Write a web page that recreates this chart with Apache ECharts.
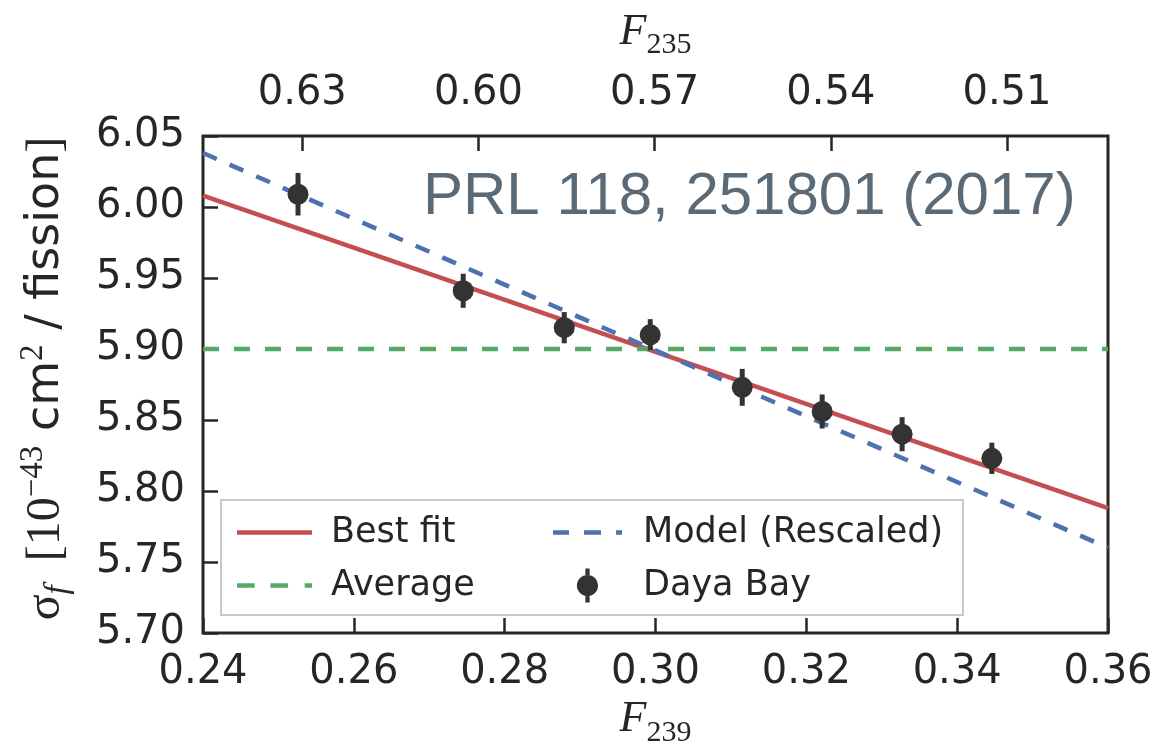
<!DOCTYPE html>
<html>
<head>
<meta charset="utf-8">
<script src="https://cdn.jsdelivr.net/npm/echarts@6/dist/echarts.min.js"></script>
<style>html,body{margin:0;padding:0;background:#fff}#c{width:1157px;height:756px}</style>
</head>
<body>
<div id="c"></div>
<script>
// ---- data ----
const f239 = [0.2526, 0.2745, 0.2879, 0.2993, 0.3115, 0.3221, 0.3327, 0.3446];
const sigma = [6.009, 5.941, 5.915, 5.910, 5.873, 5.856, 5.840, 5.823];
const sigmaErr = [0.015, 0.012, 0.011, 0.011, 0.013, 0.012, 0.012, 0.011];
const lineX = [0.24, 0.36];
const bestFitY = [6.008, 5.788];
const modelY = [6.038, 5.760];
const averageY = [5.90, 5.90];
const f235Ticks = [0.63, 0.60, 0.57, 0.54, 0.51];
const f235Span = [0.4928, 0.6469]; // top axis value at the right and left plot edges
const seriesNames = ['Best fit', 'Average', 'Model (Rescaled)', 'Daya Bay'];

const ink = '#262626';
const sans = 'DejaVu Sans';
const serif = 'Liberation Serif';
const red = '#c44e52', green = '#55a868', blue = '#4c72b0', dark = '#333333';

const chart = echarts.init(document.getElementById('c'), null, {renderer: 'canvas'});

const pair = (xs, ys) => xs.map((x, i) => [x, ys[i]]);
const icons = {
  solid: 'path://M0,0H75V4.5H0Z',
  greenDash: 'path://M0,0H17V4.5H0Z M32,0H49V4.5H32Z M65,0H72V4.5H65Z',
  blueDash: 'path://M0,0H16V4.5H0Z M31,0H48V4.5H31Z M63,0H69V4.5H63Z',
  daya: 'path://M4,0 H6 V3 H4 Z M4,13 H6 V16 H4 Z M10,8 A5,5 0 1,1 0,8 A5,5 0 1,1 10,8 Z'
};

const option = {
  animation: false,
  backgroundColor: '#ffffff',
  grid: {left: 203, right: 49, top: 136, bottom: 123, show: true, borderColor: ink, borderWidth: 3, backgroundColor: 'transparent'},
  xAxis: [
    {
      type: 'value', position: 'bottom', min: 0.24, max: 0.36, interval: 0.02,
      axisLine: {show: false},
      axisTick: {show: true, inside: true, length: 15, lineStyle: {color: ink, width: 2.5}},
      axisLabel: {margin: 20, fontSize: 40, fontFamily: sans, color: ink, formatter: v => v.toFixed(2)},
      splitLine: {show: false},
      name: '{f|F}{s|239}', nameLocation: 'middle', nameGap: 62,
      nameTextStyle: {rich: {
        f: {fontFamily: serif, fontStyle: 'italic', fontSize: 44, color: ink, lineHeight: 50, verticalAlign: 'top'},
        s: {fontFamily: serif, fontSize: 30, color: ink, lineHeight: 30, verticalAlign: 'bottom'}
      }}
    },
    {
      type: 'value', position: 'top', inverse: true, min: f235Span[0], max: f235Span[1],
      axisLine: {show: false},
      axisTick: {show: true, inside: true, length: 15, customValues: f235Ticks, lineStyle: {color: ink, width: 2.5}},
      axisLabel: {margin: 22, fontSize: 40, fontFamily: sans, color: ink, customValues: f235Ticks, formatter: v => v.toFixed(2)},
      splitLine: {show: false},
      name: '{f|F}{s|235}', nameLocation: 'middle', nameGap: 76,
      nameTextStyle: {rich: {
        f: {fontFamily: serif, fontStyle: 'italic', fontSize: 44, color: ink, lineHeight: 50, verticalAlign: 'top'},
        s: {fontFamily: serif, fontSize: 30, color: ink, lineHeight: 30, verticalAlign: 'bottom'}
      }}
    }
  ],
  yAxis: {
    type: 'value', min: 5.70, max: 6.05, interval: 0.05,
    axisLine: {show: false},
    axisTick: {show: true, inside: true, length: 15, lineStyle: {color: ink, width: 2.5}},
    axisLabel: {margin: 18, fontSize: 40, fontFamily: sans, color: ink, formatter: v => v.toFixed(2)},
    splitLine: {show: false},
    name: '{m|σ}{sub|f}{m|  [10}{sup|−43}{t| cm}{sup2|2}{t| / fission}{m|]}',
    nameLocation: 'middle', nameRotate: 90, nameGap: 128,
    nameTextStyle: {padding: [0, 0, 0, 12], rich: {
      m: {fontFamily: serif, fontSize: 48, color: ink, lineHeight: 58, verticalAlign: 'middle'},
      sub: {fontFamily: serif, fontStyle: 'italic', fontSize: 33, color: ink, lineHeight: 30, verticalAlign: 'bottom'},
      sup: {fontFamily: serif, fontSize: 33, color: ink, lineHeight: 30, verticalAlign: 'top'},
      sup2: {fontFamily: serif, fontSize: 33, color: ink, lineHeight: 30, verticalAlign: 'top'},
      t: {fontFamily: sans, fontSize: 46, color: ink, lineHeight: 58, verticalAlign: 'middle'}
    }}
  },
  legend: [
    {
      data: [{name: seriesNames[0], icon: icons.solid}, {name: seriesNames[1], icon: icons.greenDash}],
      orient: 'vertical', left: 232, top: 510,
      itemWidth: 75, itemHeight: 34, itemGap: 18,
      textStyle: {fontSize: 35, fontFamily: sans, color: ink, padding: [0, 0, 0, 14]},
      selectedMode: false
    },
    {
      data: [{name: seriesNames[2], icon: icons.blueDash}, {name: seriesNames[3], icon: icons.daya}],
      orient: 'vertical', left: 548, top: 510,
      itemWidth: 69, itemHeight: 34, itemGap: 18,
      textStyle: {fontSize: 35, fontFamily: sans, color: ink, padding: [0, 0, 0, 16]},
      selectedMode: false
    }
  ],
  graphic: [
    {type: 'rect', z: 3, shape: {x: 221, y: 500, width: 742, height: 115}, style: {fill: '#ffffff', stroke: '#c8c8c8', lineWidth: 2}},
    {type: 'text', z: 5, x: 423, y: 197, style: {text: 'PRL 118, 251801 (2017)', fontSize: 60, fontFamily: 'Liberation Sans', fill: '#5a6a77', align: 'left', verticalAlign: 'middle'}}
  ],
  series: [
    {name: seriesNames[0], type: 'line', data: pair(lineX, bestFitY), symbol: 'none', z: 2,
      lineStyle: {color: red, width: 4.5}, itemStyle: {color: red}},
    {name: seriesNames[1], type: 'line', data: pair(lineX, averageY), symbol: 'none', z: 2,
      lineStyle: {color: green, width: 4.5, type: [16, 15]}, itemStyle: {color: green}},
    {name: seriesNames[2], type: 'line', data: pair(lineX, modelY), symbol: 'none', z: 2,
      lineStyle: {color: blue, width: 4.5, type: [15, 14]}, itemStyle: {color: blue}},
    {name: seriesNames[3], type: 'custom', z: 5,
      data: f239.map((x, i) => [x, sigma[i], sigmaErr[i]]),
      renderItem: (params, api) => {
        const x = api.value(0), y = api.value(1), e = api.value(2);
        const a = api.coord([x, y + e]), b = api.coord([x, y - e]);
        return {type: 'line', shape: {x1: a[0], y1: a[1], x2: b[0], y2: b[1]}, style: {stroke: dark, lineWidth: 5}};
      },
      itemStyle: {color: dark}},
    {name: seriesNames[3], type: 'scatter', z: 6, data: pair(f239, sigma), symbol: 'circle', symbolSize: 21,
      itemStyle: {color: dark, opacity: 1}}
  ]
};
chart.setOption(option);
</script>
</body>
</html>
